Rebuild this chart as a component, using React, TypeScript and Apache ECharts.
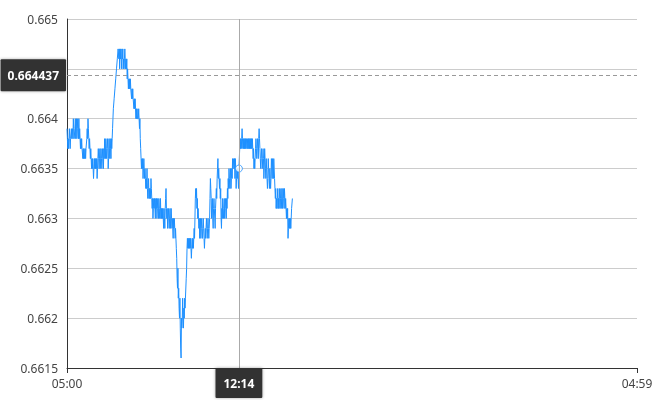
import React, { useEffect, useRef } from "react";
import * as echarts from "echarts";

// Price values in pips (value = pips / 10000), one per minute starting at 05:00
const h05 = [
  6639, 6638, 6637, 6638, 6637, 6638, 6639, 6638, 6637, 6638,
  6638, 6639, 6638, 6638, 6639, 6638, 6640, 6639, 6638, 6638,
  6639, 6640, 6638, 6639, 6640, 6638, 6639, 6640, 6639, 6638,
  6640, 6638, 6639, 6638, 6637, 6638, 6637, 6638, 6637, 6637,
  6636, 6637, 6636, 6637, 6636, 6636, 6637, 6636, 6637, 6637,
  6638, 6639, 6638, 6640, 6639, 6638, 6637, 6638, 6637, 6636,
];
const h06 = [
  6637, 6636, 6635, 6636, 6635, 6636, 6635, 6634, 6635, 6636,
  6635, 6636, 6635, 6636, 6635, 6636, 6634, 6635, 6636, 6637,
  6636, 6635, 6636, 6637, 6635, 6636, 6637, 6636, 6635, 6636,
  6637, 6636, 6635, 6637, 6636, 6638, 6637, 6636, 6638, 6637,
  6636, 6637, 6638, 6637, 6635, 6636, 6638, 6637, 6636, 6638,
  6637, 6636, 6638, 6637, 6638, 6639, 6640, 6641, 6641, 6642,
];
const h07 = [
  6642, 6643, 6643, 6644, 6644, 6645, 6645, 6646, 6646, 6647,
  6647, 6646, 6647, 6645, 6647, 6646, 6647, 6646, 6645, 6647,
  6646, 6647, 6645, 6646, 6645, 6646, 6647, 6646, 6645, 6646,
  6645, 6646, 6644, 6645, 6644, 6643, 6644, 6643, 6644, 6643,
  6644, 6643, 6643, 6642, 6643, 6642, 6643, 6642, 6642, 6641,
  6642, 6641, 6642, 6641, 6640, 6641, 6640, 6641, 6640, 6640,
];
const h08 = [
  6640, 6641, 6640, 6639, 6640, 6638, 6637, 6636, 6635, 6636,
  6635, 6636, 6634, 6635, 6636, 6635, 6634, 6635, 6634, 6633,
  6634, 6633, 6635, 6633, 6632, 6633, 6634, 6632, 6633, 6632,
  6633, 6632, 6634, 6633, 6632, 6631, 6632, 6630, 6631, 6632,
  6631, 6632, 6631, 6630, 6632, 6631, 6632, 6630, 6631, 6632,
  6631, 6630, 6632, 6631, 6630, 6631, 6632, 6630, 6631, 6630,
];
const h09 = [
  6631, 6630, 6631, 6630, 6629, 6631, 6630, 6629, 6631, 6632,
  6633, 6631, 6630, 6631, 6629, 6630, 6631, 6630, 6629, 6630,
  6631, 6629, 6630, 6631, 6630, 6629, 6630, 6629, 6628, 6630,
  6629, 6630, 6629, 6628, 6629, 6628, 6627, 6626, 6624, 6623,
  6625, 6622, 6623, 6621, 6620, 6622, 6619, 6617, 6616, 6620,
  6619, 6620, 6622, 6620, 6619, 6621, 6620, 6622, 6621, 6622,
];
const h10 = [
  6622, 6624, 6625, 6627, 6628, 6627, 6628, 6627, 6628, 6627,
  6628, 6627, 6628, 6627, 6626, 6627, 6628, 6627, 6628, 6627,
  6628, 6629, 6628, 6630, 6632, 6633, 6632, 6633, 6631, 6632,
  6630, 6631, 6630, 6629, 6630, 6628, 6629, 6630, 6628, 6629,
  6630, 6629, 6628, 6629, 6630, 6629, 6628, 6627, 6628, 6629,
  6628, 6629, 6630, 6629, 6628, 6629, 6630, 6629, 6628, 6629,
];
const h11 = [
  6630, 6632, 6634, 6633, 6632, 6630, 6631, 6632, 6630, 6629,
  6631, 6632, 6631, 6630, 6629, 6631, 6632, 6633, 6632, 6634,
  6635, 6636, 6634, 6635, 6634, 6633, 6634, 6632, 6633, 6630,
  6629, 6631, 6630, 6632, 6631, 6630, 6631, 6632, 6630, 6631,
  6632, 6631, 6630, 6632, 6631, 6633, 6632, 6634, 6633, 6635,
  6634, 6633, 6634, 6635, 6633, 6634, 6635, 6634, 6636, 6635,
];
const h12 = [
  6635, 6636, 6635, 6636, 6634, 6636, 6635, 6633, 6634, 6635,
  6634, 6635, 6634, 6633, 6635, 6636, 6637, 6638, 6637, 6638,
  6637, 6638, 6639, 6638, 6637, 6638, 6637, 6638, 6637, 6638,
  6637, 6638, 6637, 6638, 6638, 6637, 6638, 6637, 6638, 6637,
  6638, 6637, 6638, 6637, 6638, 6637, 6638, 6637, 6638, 6637,
  6636, 6637, 6635, 6636, 6635, 6636, 6637, 6638, 6637, 6636,
];
const h13 = [
  6637, 6638, 6637, 6636, 6638, 6639, 6638, 6637, 6636, 6635,
  6636, 6637, 6636, 6635, 6636, 6637, 6636, 6634, 6635, 6637,
  6636, 6635, 6634, 6636, 6635, 6634, 6633, 6634, 6636, 6635,
  6634, 6633, 6635, 6634, 6633, 6634, 6636, 6635, 6634, 6636,
  6635, 6634, 6636, 6635, 6634, 6633, 6632, 6633, 6631, 6632,
  6631, 6632, 6633, 6631, 6632, 6631, 6633, 6632, 6631, 6632,
];
const h14 = [
  6633, 6631, 6632, 6633, 6631, 6632, 6633, 6632, 6631, 6633,
  6632, 6631, 6632, 6631, 6630, 6631, 6630, 6631, 6628, 6629,
  6630, 6629, 6630, 6629, 6630, 6629, 6630, 6631, 6631, 6632, 6632,
];

const START_HOUR = 5;
const MINUTES_IN_DAY = 1440;
const crosshairTime = "12:14";
const crosshairPrice = 0.664437;
const yMin = 0.6615;
const yMax = 0.665;
const yStep = 0.0005;

const pad = (n: number) => (n < 10 ? "0" + n : "" + n);
const categories: string[] = [];
for (let i = 0; i < MINUTES_IN_DAY; i++) {
  const t = START_HOUR * 60 + i;
  const h = Math.floor(t / 60) % 24;
  const m = t % 60;
  categories.push(pad(h) + ":" + pad(m));
}

const pips = [...h05, ...h06, ...h07, ...h08, ...h09, ...h10, ...h11, ...h12, ...h13, ...h14];
const values = pips.map((p) => p / 10000);

export default function App() {
  const ref = useRef<HTMLDivElement>(null);
  useEffect(() => {
    if (!ref.current) return;
    const chart = echarts.init(ref.current, undefined, { renderer: "svg" });
    const crossIdx = categories.indexOf(crosshairTime);
    const lastIdx = categories.length - 1;
    const showEnds = (i: number) => i === 0 || i === lastIdx;
    const font = "'Segoe UI', 'Noto Sans', sans-serif";
    chart.setOption({
      animation: false,
      textStyle: { fontFamily: font },
      grid: { left: 67, right: 33, top: 19, bottom: 32, containLabel: false },
      xAxis: {
        type: "category",
        data: categories,
        boundaryGap: false,
        axisLine: { lineStyle: { color: "#333", width: 1 } },
        axisTick: { show: true, interval: showEnds, lineStyle: { color: "#333" }, length: 5 },
        axisLabel: { interval: showEnds, color: "#444", fontSize: 12, margin: 9, fontFamily: font },
        splitLine: { show: false },
        axisPointer: {
          show: true,
          status: "show",
          value: crossIdx,
          snap: true,
          type: "line",
          lineStyle: { color: "#aaa", width: 1, type: "solid" },
          label: {
            show: true,
            backgroundColor: "#333",
            color: "#fff",
            fontWeight: "bold",
            fontSize: 12,
            fontFamily: font,
            padding: [9, 8, 9, 8],
            borderRadius: 1,
            margin: 0,
            shadowBlur: 3,
            shadowColor: "rgba(0,0,0,0.35)",
          },
        },
      },
      yAxis: {
        type: "value",
        min: yMin,
        max: yMax,
        interval: yStep,
        axisLine: { show: true, lineStyle: { color: "#333", width: 1 } },
        axisTick: { show: false },
        axisLabel: {
          color: "#444",
          fontSize: 12,
          margin: 9,
          fontFamily: font,
          // the tick label under the price-pointer box is covered in the reference
          formatter: (v: number) => {
            const r = parseFloat(v.toFixed(5));
            return Math.abs(r - crosshairPrice) < 0.00025 ? "" : String(r);
          },
        },
        splitLine: { lineStyle: { color: "#ccc", width: 1 } },
        axisPointer: {
          show: true,
          status: "show",
          value: crosshairPrice,
          snap: false,
          type: "line",
          lineStyle: { color: "#999", width: 1, type: [4, 3] },
          label: {
            show: true,
            formatter: (p: any) => Number(p.value).toFixed(6),
            backgroundColor: "#333",
            color: "#fff",
            fontWeight: "bold",
            fontSize: 12,
            fontFamily: font,
            padding: [10, 7, 10, 7],
            borderRadius: 1,
            margin: 1,
            shadowBlur: 3,
            shadowColor: "rgba(0,0,0,0.35)",
          },
        },
      },
      series: [
        {
          type: "line",
          data: values,
          showSymbol: false,
          symbol: "none",
          lineStyle: { color: "#1E90FF", width: 1 },
          itemStyle: { color: "#1E90FF" },
          silent: true,
        },
        {
          type: "scatter",
          data: [[crossIdx, values[crossIdx]]],
          symbol: "circle",
          symbolSize: 7,
          itemStyle: { color: "#fff", borderColor: "#1E90FF", borderWidth: 1 },
          silent: true,
          z: 5,
        },
      ],
    });
    return () => chart.dispose();
  }, []);
  return (
    <div
      ref={ref}
      style={{ position: "fixed", left: 0, top: 0, width: 670, height: 400 }}
    />
  );
}
